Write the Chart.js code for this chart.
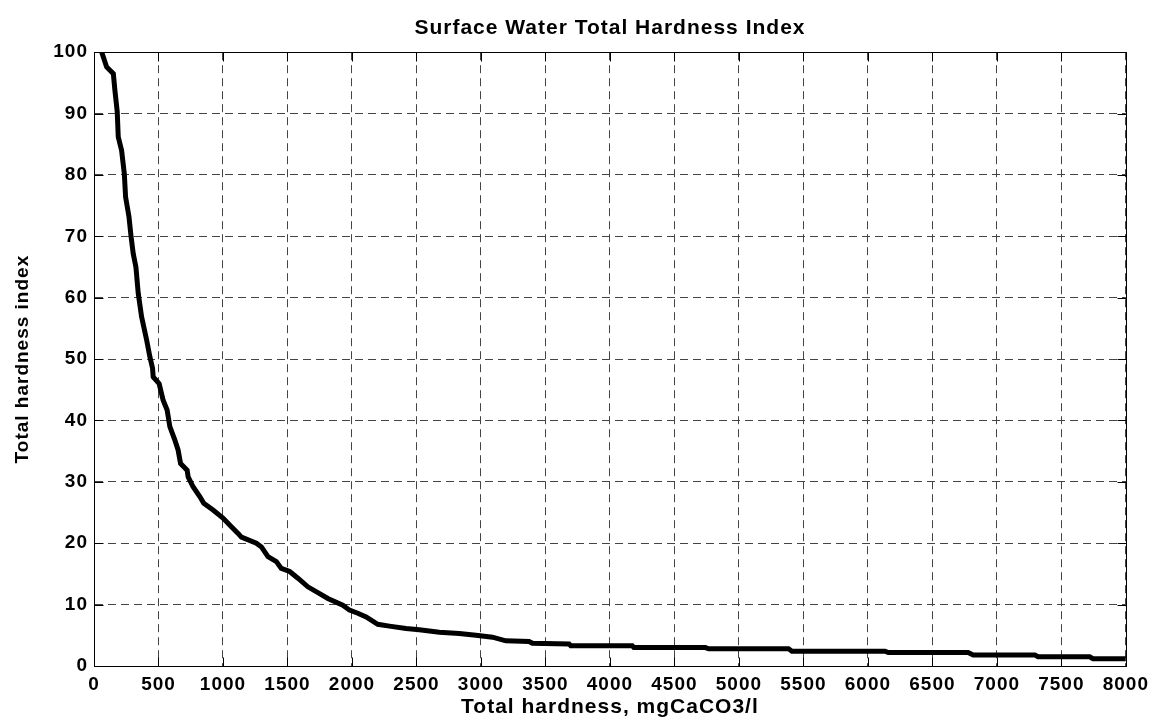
<!DOCTYPE html>
<html>
<head>
<meta charset="utf-8">
<script src="https://cdn.jsdelivr.net/npm/chart.js@4"></script>
<style>
html,body{margin:0;padding:0;background:#fff;}
#wrap{width:1156px;height:727px;}
</style>
</head>
<body>
<div id="wrap"><canvas id="c" width="1156" height="727"></canvas></div>
<script>
const chartTitle = "Surface Water Total Hardness Index";
const xTitle = "Total hardness, mgCaCO3/l";
const yTitle = "Total hardness index";

const hardness = [60,98,150,162,180,188,214,235,245,271,286,304,325,343,369,408,433,454,459,505,536,567,588,627,652,671,722,730,768,820,851,923,1000,1065,1117,1143,1259,1298,1349,1414,1452,1517,1581,1658,1749,1813,1929,1981,2045,2110,2200,2290,2419,2522,2677,2832,2961,3089,3193,3373,3399,3683,3696,4173,4186,4740,4766,5385,5411,6133,6158,6777,6816,7294,7319,7719,7745,8000];
const index = [100,97.6,96.5,93.8,90.3,86.2,84,80.2,76.4,73.2,70.2,67.2,65,60.7,56.9,53.1,50.4,48.5,47.1,46,43.3,41.7,39,36.8,35.2,33,31.9,30.8,29.2,27.6,26.5,25.4,24.1,22.7,21.6,21,20,19.4,17.8,17,15.9,15.4,14.3,12.9,11.8,11,9.9,9.1,8.6,8,6.8,6.5,6.1,5.9,5.5,5.3,5,4.7,4.1,4,3.7,3.6,3.3,3.3,3,3,2.8,2.8,2.4,2.4,2.2,2.2,1.8,1.8,1.5,1.5,1.2,1.2];

const xMin = 0, xMax = 8000, xStep = 500;
const yMin = 0, yMax = 100, yStep = 10;

const points = hardness.map((h, i) => ({x: h, y: index[i]}));

const spacingPlugin = {
  id: 'spacing',
  beforeUpdate(chart) { chart.ctx.letterSpacing = '1px'; },
  beforeLayout(chart) { chart.ctx.letterSpacing = '1px'; },
  beforeDraw(chart) { chart.ctx.letterSpacing = '1px'; }
};

const boxPlugin = {
  id: 'box',
  afterDraw(chart) {
    const a = chart.chartArea, ctx = chart.ctx;
    const L = Math.round(a.left) + 0.5, R = Math.round(a.right) + 0.5;
    const T = Math.round(a.top) + 0.5, B = Math.round(a.bottom) + 0.5;
    const len = 9;
    ctx.save();
    ctx.setLineDash([]);
    ctx.strokeStyle = '#000';
    ctx.lineWidth = 1;
    ctx.strokeRect(L, T, R - L, B - T);
    ctx.beginPath();
    const xs = chart.scales.x, ys = chart.scales.y;
    xs.ticks.forEach(t => {
      const p = Math.round(xs.getPixelForValue(t.value)) + 0.5;
      ctx.moveTo(p, B); ctx.lineTo(p, B - len);
      ctx.moveTo(p, T); ctx.lineTo(p, T + len);
    });
    ys.ticks.forEach(t => {
      const p = Math.round(ys.getPixelForValue(t.value)) + 0.5;
      ctx.moveTo(L, p); ctx.lineTo(L + len, p);
      ctx.moveTo(R, p); ctx.lineTo(R - len, p);
    });
    ctx.stroke();
    ctx.restore();
  }
};

const FAM = 'Arial, "Liberation Sans", sans-serif';
const tickFont = {family: FAM, size: 19, weight: 'bold'};

new Chart(document.getElementById('c'), {
  type: 'line',
  data: {
    datasets: [{
      data: points,
      borderColor: '#000',
      borderWidth: 5,
      pointRadius: 0,
      tension: 0,
      fill: false
    }]
  },
  options: {
    responsive: false,
    animation: false,
    layout: {padding: {left: 0, right: 28, top: 0, bottom: 0}},
    plugins: {
      legend: {display: false},
      tooltip: {enabled: false},
      title: {
        display: true,
        fullSize: false,
        text: chartTitle,
        color: '#000',
        font: {family: FAM, size: 21, weight: 'bold'},
        padding: {top: 16, bottom: 11}
      }
    },
    scales: {
      x: {
        type: 'linear',
        min: xMin, max: xMax,
        afterFit(s) { s.height = 61; },
        ticks: {stepSize: xStep, color: '#000', font: tickFont, padding: 7, maxRotation: 0, autoSkip: false,
                callback: v => String(v)},
        grid: {color: '#444', drawTicks: false, lineWidth: 1},
        border: {display: true, color: '#000', width: 1, dash: [8, 5]},
        title: {display: true, text: xTitle, color: '#000', font: {family: FAM, size: 21, weight: 'bold'}, padding: {top: 0, bottom: 7}}
      },
      y: {
        type: 'linear',
        min: yMin, max: yMax,
        afterFit(s) { s.width = 94; },
        ticks: {stepSize: yStep, color: '#000', font: tickFont, padding: 6, callback: v => String(v)},
        grid: {color: '#444', drawTicks: false, lineWidth: 1},
        border: {display: true, color: '#000', width: 1, dash: [8, 5]},
        title: {display: true, text: yTitle, color: '#000', font: {family: FAM, size: 19, weight: 'bold'}, padding: {top: 11, bottom: 0}}
      }
    }
  },
  plugins: [spacingPlugin, boxPlugin]
});
</script>
</body>
</html>
